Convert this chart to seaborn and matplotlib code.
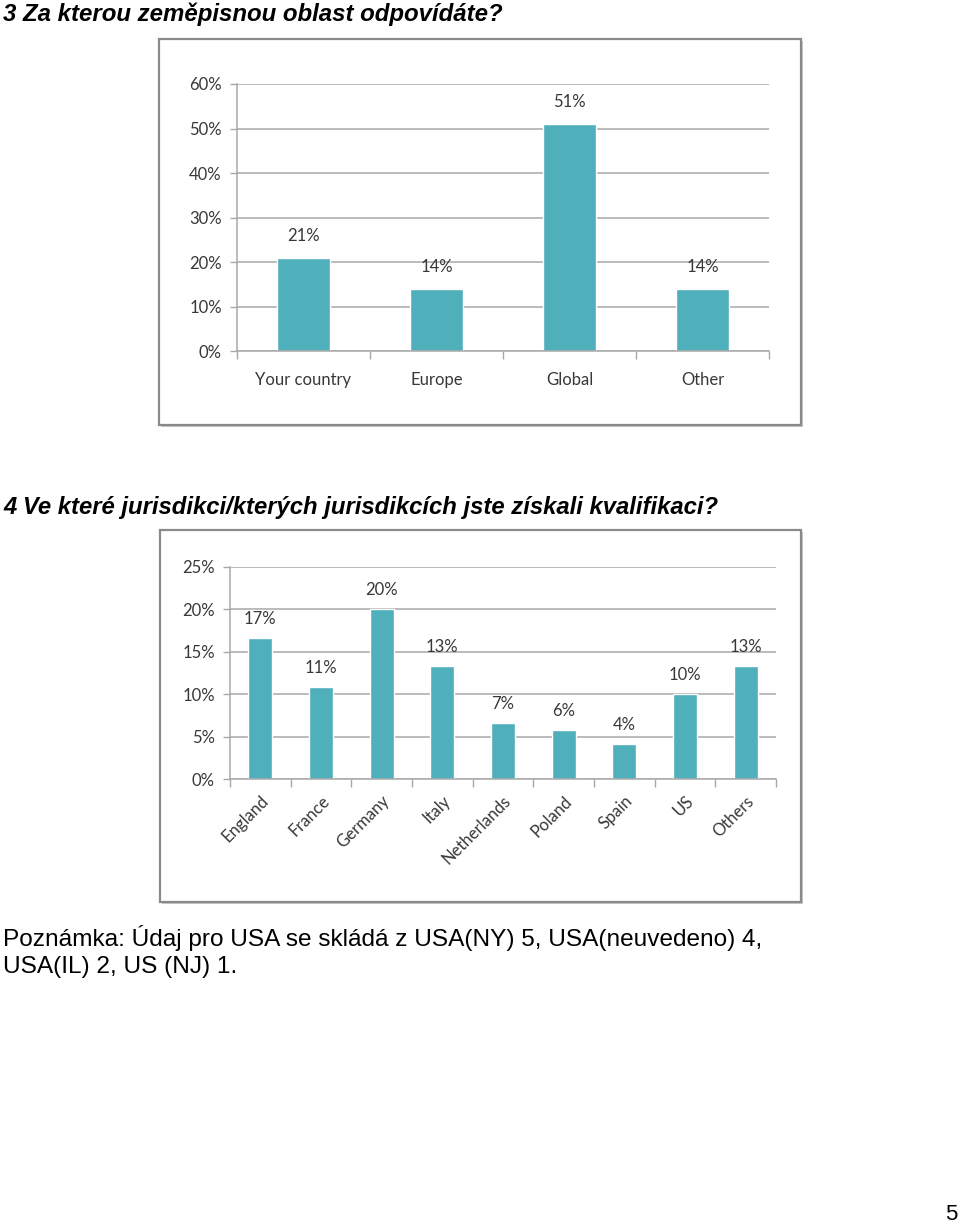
import matplotlib
matplotlib.use("Agg")
import matplotlib.pyplot as plt
import seaborn as sns
import pandas as pd
from matplotlib.patches import Rectangle
from matplotlib.ticker import FixedLocator

# ---- data ----
regions = ["Your country", "Europe", "Global", "Other"]
region_values = [21, 14, 51, 14]
region_labels = ["21%", "14%", "51%", "14%"]
region_yticks = [0, 10, 20, 30, 40, 50, 60]

countries = ["England", "France", "Germany", "Italy", "Netherlands", "Poland", "Spain", "US", "Others"]
country_values = [16.6, 10.8, 20.0, 13.3, 6.6, 5.8, 4.1, 10.0, 13.3]
country_labels = ["17%", "11%", "20%", "13%", "7%", "6%", "4%", "10%", "13%"]
country_yticks = [0, 5, 10, 15, 20, 25]

title1 = "3 Za kterou zeměpisnou oblast odpovídáte?"
title2 = "4 Ve které jurisdikci/kterých jurisdikcích jste získali kvalifikaci?"
note_lines = ["Poznámka: Údaj pro USA se skládá z USA(NY) 5, USA(neuvedeno) 4,",
              "USA(IL) 2, US (NJ) 1."]
page_no = "5"

# ---- style ----
sns.set_theme(style="white")
plt.rcParams['font.family'] = ['Lato', 'DejaVu Sans']

W, H = 960, 1226
fig = plt.figure(figsize=(W / 100, H / 100), dpi=100)
fig.patch.set_facecolor("white")

BAR = "#4FAFBB"
GRID = "#a8a8a8"
TXT = "#383838"


def fx(x):
    return x / W


def fy(y):
    return 1 - y / H


def frame(x0, y0, x1, y1):
    fig.patches.append(Rectangle((fx(x0) + 0.002, fy(y1) - 0.0015), fx(x1 - x0), (y1 - y0) / H,
                                 transform=fig.transFigure, facecolor="#c8c8c8", edgecolor="none", zorder=-3))
    fig.patches.append(Rectangle((fx(x0), fy(y1)), fx(x1 - x0), (y1 - y0) / H,
                                 transform=fig.transFigure, facecolor="white", edgecolor="#8a8a8a",
                                 linewidth=1.6, zorder=-2))


def make_axes(left, right, top, bottom):
    ax = fig.add_axes([fx(left), fy(bottom), fx(right - left), (bottom - top) / H])
    ax.set_zorder(1)
    return ax


def style_axes(ax, cats, yticks, fs_tick):
    n = len(cats)
    ax.set_xlim(-0.5, n - 0.5)
    ax.set_ylim(yticks[0], yticks[-1])
    ax.set_yticks(yticks)
    ax.set_yticklabels([f"{t}%" for t in yticks], fontsize=fs_tick, color=TXT)
    ax.yaxis.grid(True, color=GRID, linewidth=1.1)
    ax.xaxis.grid(False)
    ax.set_axisbelow(True)
    for s in ["top", "right"]:
        ax.spines[s].set_visible(False)
    for s in ["left", "bottom"]:
        ax.spines[s].set_color(GRID)
        ax.spines[s].set_linewidth(1.1)
    ax.tick_params(axis="y", which="major", left=True, length=5, width=1, color=GRID, pad=6)
    ax.tick_params(axis="x", which="major", bottom=False, length=0)
    ax.xaxis.set_minor_locator(FixedLocator([i - 0.5 for i in range(n + 1)]))
    ax.tick_params(axis="x", which="minor", bottom=True, length=6, width=1, color=GRID, direction="out")
    ax.set_xlabel("")
    ax.set_ylabel("")
    ax.set_facecolor("none")


# ---- chart 1 ----
frame(159, 39, 801, 425)
ax1 = make_axes(237, 769, 84, 351)
df1 = pd.DataFrame({"region": regions, "value": region_values})
sns.barplot(data=df1, x="region", y="value", color=BAR, width=0.4, ax=ax1, saturation=1)
style_axes(ax1, regions, region_yticks, 12)
ax1.set_xticks(range(len(regions)))
ax1.set_xticklabels(regions, fontsize=12, color=TXT)
ax1.tick_params(axis="x", pad=15)
ax1.bar_label(ax1.containers[0], labels=region_labels, padding=10, fontsize=12, color=TXT)

# ---- chart 2 ----
frame(160, 530, 801, 902)
ax2 = make_axes(230, 776, 567, 779)
df2 = pd.DataFrame({"country": countries, "value": country_values})
sns.barplot(data=df2, x="country", y="value", color=BAR, width=0.4, ax=ax2, saturation=1)
style_axes(ax2, countries, country_yticks, 12)
ax2.set_xticks(range(len(countries)))
ax2.set_xticklabels(countries, fontsize=12, color=TXT, rotation=45, ha="right",
                    rotation_mode="anchor")
ax2.tick_params(axis="x", pad=10)
ax2.bar_label(ax2.containers[0], labels=country_labels, padding=8, fontsize=12, color=TXT)

# ---- page text ----
tfam = ["Liberation Sans", "DejaVu Sans"]
fig.text(fx(3), fy(14), title1, fontsize=17.3, fontweight="bold", fontstyle="italic",
         family=tfam, va="center", ha="left", color="black")
fig.text(fx(3), fy(508), title2, fontsize=17.2, fontweight="bold", fontstyle="italic",
         family=tfam, va="center", ha="left", color="black")
fig.text(fx(3), fy(938), note_lines[0], fontsize=17.6, family=tfam, va="center", ha="left", color="black")
fig.text(fx(3), fy(967), note_lines[1], fontsize=17.6, family=tfam, va="center", ha="left", color="black")
fig.text(fx(957), fy(1215), page_no, fontsize=16, family=tfam, va="center", ha="right", color="black")

fig.savefig("out.png", dpi=100, facecolor="white")
